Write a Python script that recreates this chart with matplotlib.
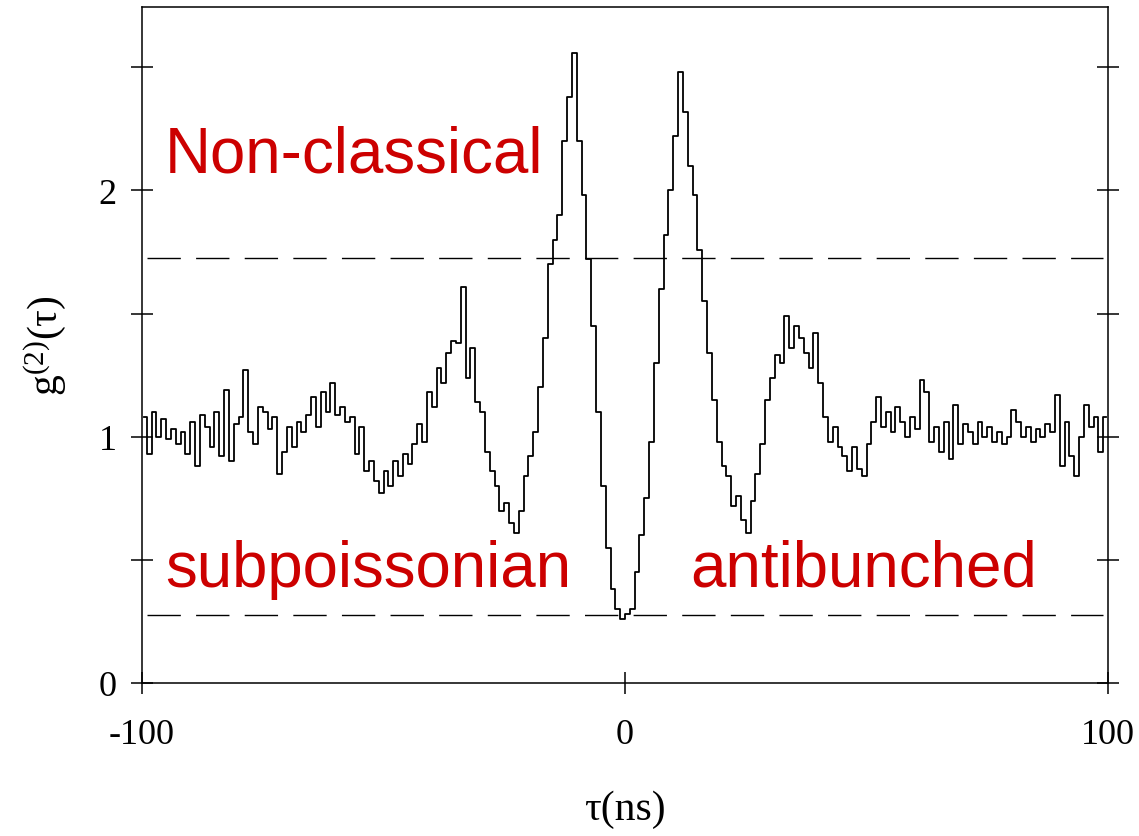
import numpy as np
import matplotlib
matplotlib.use("Agg")
import matplotlib.pyplot as plt

# Second-order correlation histogram, 1 ns bins from -100 ns to +100 ns
tau_neg = [
    1.08, 0.93, 1.10, 1.00, 1.07, 0.99, 1.03, 0.97, 1.02, 0.93,
    1.06, 0.88, 1.09, 1.04, 0.96, 1.10, 0.92, 1.19, 0.90, 1.05,
    1.08, 1.27, 1.02, 0.97, 1.12, 1.10, 1.03, 1.08, 0.85, 0.94,
    1.04, 0.96, 1.06, 1.02, 1.09, 1.16, 1.04, 1.18, 1.10, 1.22,
    1.09, 1.12, 1.06, 1.08, 0.93, 1.04, 0.86, 0.90, 0.82, 0.77,
    0.86, 0.80, 0.90, 0.84, 0.93, 0.89, 0.97, 1.05, 0.98, 1.18,
    1.12, 1.28, 1.22, 1.34, 1.39, 1.38, 1.61, 1.24, 1.36, 1.14,
    1.10, 0.94, 0.86, 0.80, 0.70, 0.73, 0.65, 0.61, 0.70, 0.84,
    0.92, 1.02, 1.20, 1.40, 1.70, 1.80, 1.90, 2.20, 2.38, 2.56,
    2.20, 1.98, 1.72, 1.45, 1.10, 0.80, 0.55, 0.38, 0.30, 0.26,
]
tau_pos = [
    0.28, 0.30, 0.45, 0.60, 0.75, 0.98, 1.30, 1.60, 1.82, 2.00,
    2.22, 2.48, 2.32, 2.10, 1.98, 1.76, 1.55, 1.34, 1.15, 0.98,
    0.88, 0.84, 0.72, 0.76, 0.66, 0.61, 0.74, 0.85, 0.97, 1.15,
    1.24, 1.33, 1.30, 1.49, 1.36, 1.45, 1.40, 1.34, 1.28, 1.42,
    1.22, 1.08, 0.98, 1.04, 0.96, 0.92, 0.86, 0.96, 0.87, 0.84,
    0.97, 1.06, 1.16, 1.04, 1.10, 1.02, 1.12, 1.06, 1.00, 1.08,
    1.03, 1.23, 1.18, 0.98, 1.04, 0.94, 1.06, 0.91, 1.13, 0.97,
    1.05, 1.02, 0.97, 1.06, 1.00, 1.04, 0.98, 1.02, 0.97, 1.00,
    1.11, 1.06, 1.00, 1.04, 0.98, 1.03, 1.00, 1.05, 1.02, 1.17,
    0.88, 1.06, 0.92, 0.84, 1.00, 1.13, 1.04, 1.08, 0.94, 1.08,
]
g2 = np.array(tau_neg + tau_pos)
tau = np.arange(-99.5, 100.0, 1.0)

# Threshold levels
upper_level = 1.724
lower_level = 0.276

x_ticks = [-100, 0, 100]
y_ticks = [0, 0.5, 1, 1.5, 2, 2.5]
y_labels = ["0", "", "1", "", "2", ""]

plt.rcParams["mathtext.fontset"] = "custom"
plt.rcParams["mathtext.rm"] = "Liberation Serif"
plt.rcParams["mathtext.it"] = "Liberation Serif:italic"
plt.rcParams["lines.scale_dashes"] = False

fig = plt.figure(figsize=(11.39, 8.37), dpi=100)
ax = fig.add_axes([142 / 1139, 1 - 684 / 837, 966 / 1139, 676 / 837])

ax.plot(tau, g2, drawstyle="steps-mid", color="black", lw=1.3)

for lvl in (upper_level, lower_level):
    ax.plot([-99, 99], [lvl, lvl], color="black", lw=1.0,
            linestyle=(0, (24, 11)))

ax.set_xlim(-100, 100)
ax.set_ylim(0, 2.745)

serif = ["Liberation Serif", "DejaVu Serif"]
ax.set_xticks(x_ticks)
ax.set_xticklabels([str(v) for v in x_ticks], family=serif, fontsize=26)
ax.set_yticks(y_ticks)
ax.set_yticklabels(y_labels, family=serif, fontsize=26)
ax.tick_params(axis="both", direction="inout", length=16, width=1.1,
               color="black")
ax.tick_params(axis="x", pad=17)
ax.tick_params(axis="y", pad=10, right=True, labelright=False)
ax.tick_params(axis="x", top=False)
for sp in ax.spines.values():
    sp.set_linewidth(1.1)

ax.set_xlabel("τ(ns)", family=serif, fontsize=30, labelpad=28)
ax.set_ylabel(r"$\mathrm{g^{(2)}(τ)}$", fontsize=30, labelpad=22)

red = "#cc0000"
sans = ["Liberation Sans", "DejaVu Sans"]
ax.text(-95.2, 2.077, "Non-classical", color=red, fontsize=45.8,
        family=sans, va="baseline", ha="left")
ax.text(-95.2, 0.394, "subpoissonian", color=red, fontsize=45.8,
        family=sans, va="baseline", ha="left")
ax.text(13.5, 0.394, "antibunched", color=red, fontsize=45.8,
        family=sans, va="baseline", ha="left")

fig.savefig("out.png", dpi=100)
